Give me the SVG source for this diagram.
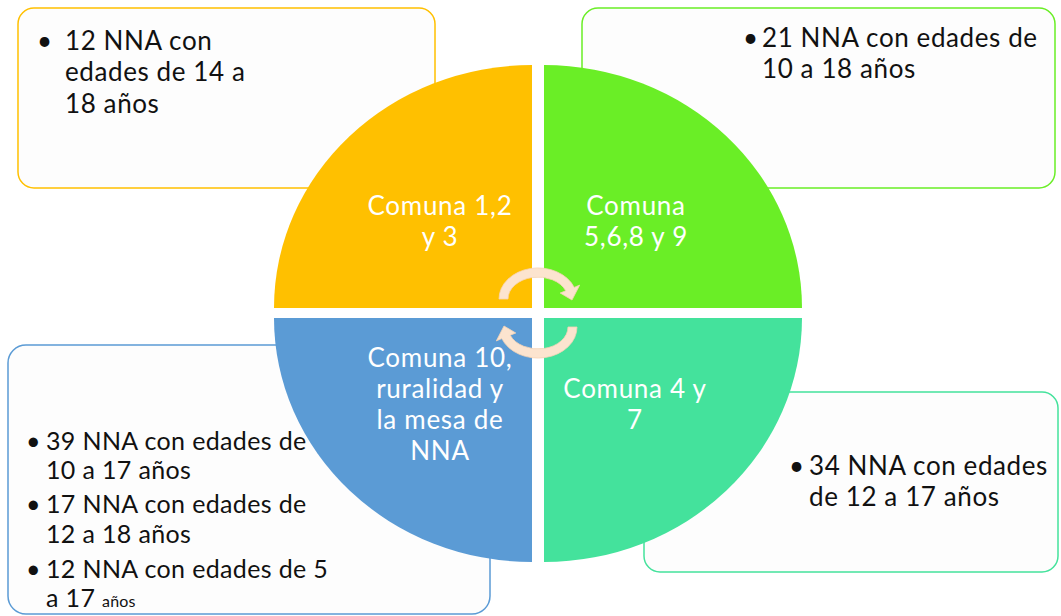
<svg xmlns="http://www.w3.org/2000/svg" width="1061" height="616" viewBox="0 0 1061 616">
<style>
.box{fill:#FDFDFD;stroke-width:1.5}
.t{font-family:Lato,"Liberation Sans",sans-serif;font-size:26px;letter-spacing:0.6px;fill:#111}
.s{font-size:25px;letter-spacing:0.35px}
.q{font-family:Lato,"Liberation Sans",sans-serif;font-size:26px;letter-spacing:0.7px;fill:#FFFFFF;text-anchor:middle}
.arr{fill:#FCE4CF;stroke:#F6D3B4;stroke-width:0.8}
</style>
<defs>
<path id="arrow" class="arr" d="M 499 299 A 39 31 0 0 1 574.2 287.4 L 579.7 285.1 L 572 300 L 560.2 293 L 565.8 290.8 A 30 22 0 0 0 508 299 Z"/>
</defs>
<rect width="1061" height="616" fill="#FFFFFF"/>
<g id="box-tl">
<rect class="box" x="18" y="8" width="417" height="180" rx="16" stroke="#FFC000"/>
<text class="t" x="37" y="50">•</text>
<text class="t" x="65" y="50">12 NNA con</text>
<text class="t" x="65" y="81">edades de 14 a</text>
<text class="t" x="65" y="113">18 años</text>
</g>
<g id="box-tr">
<rect class="box" x="582" y="8" width="473" height="180" rx="16" stroke="#6AEE26"/>
<text class="t" x="743" y="47">•</text>
<text class="t" x="762" y="47">21 NNA con edades de</text>
<text class="t" x="762" y="78">10 a 18 años</text>
</g>
<g id="box-bl">
<rect class="box" x="8" y="345" width="482" height="269" rx="18" stroke="#5B9BD5"/>
<text class="t s" x="26" y="450">•</text>
<text class="t s" x="46" y="450">39 NNA con edades de</text>
<text class="t s" x="46" y="479">10 a 17 años</text>
<text class="t s" x="26" y="513">•</text>
<text class="t s" x="46" y="513">17 NNA con edades de</text>
<text class="t s" x="46" y="543">12 a 18 años</text>
<text class="t s" x="26" y="578">•</text>
<text class="t s" x="46" y="578">12 NNA con edades de 5</text>
<text class="t s" x="46" y="607">a 17 <tspan font-size="16" letter-spacing="0.2">años</tspan></text>
</g>
<g id="box-br">
<rect class="box" x="644" y="392" width="414" height="180" rx="16" stroke="#44E29C"/>
<text class="t" x="789" y="475">•</text>
<text class="t" x="809" y="475">34 NNA con edades</text>
<text class="t" x="809" y="506">de 12 a 17 años</text>
</g>
<g id="q-tl">
<path d="M 532 308 L 274 308 A 258 243 0 0 1 532 65 Z" fill="#FFC000"/>
<text class="q" x="440" y="215">Comuna 1,2</text>
<text class="q" x="440" y="246">y 3</text>
</g>
<g id="q-tr">
<path d="M 544 308 L 544 65 A 258 243 0 0 1 802 308 Z" fill="#6AEE26"/>
<text class="q" x="636" y="215">Comuna</text>
<text class="q" x="636" y="246">5,6,8 y 9</text>
</g>
<g id="q-bl">
<path d="M 532 318 L 532 562 A 258 244 0 0 1 274 318 Z" fill="#5B9BD5"/>
<text class="q" x="440" y="367">Comuna 10,</text>
<text class="q" x="440" y="398">ruralidad y</text>
<text class="q" x="440" y="429">la mesa de</text>
<text class="q" x="440" y="460">NNA</text>
</g>
<g id="q-br">
<path d="M 544 318 L 802 318 A 258 244 0 0 1 544 562 Z" fill="#44E29C"/>
<text class="q" x="635" y="398">Comuna 4 y</text>
<text class="q" x="635" y="429">7</text>
</g>
<g id="connectors">
<use href="#arrow"/>
<use href="#arrow" transform="rotate(180 538 313)"/>
</g>
</svg>
